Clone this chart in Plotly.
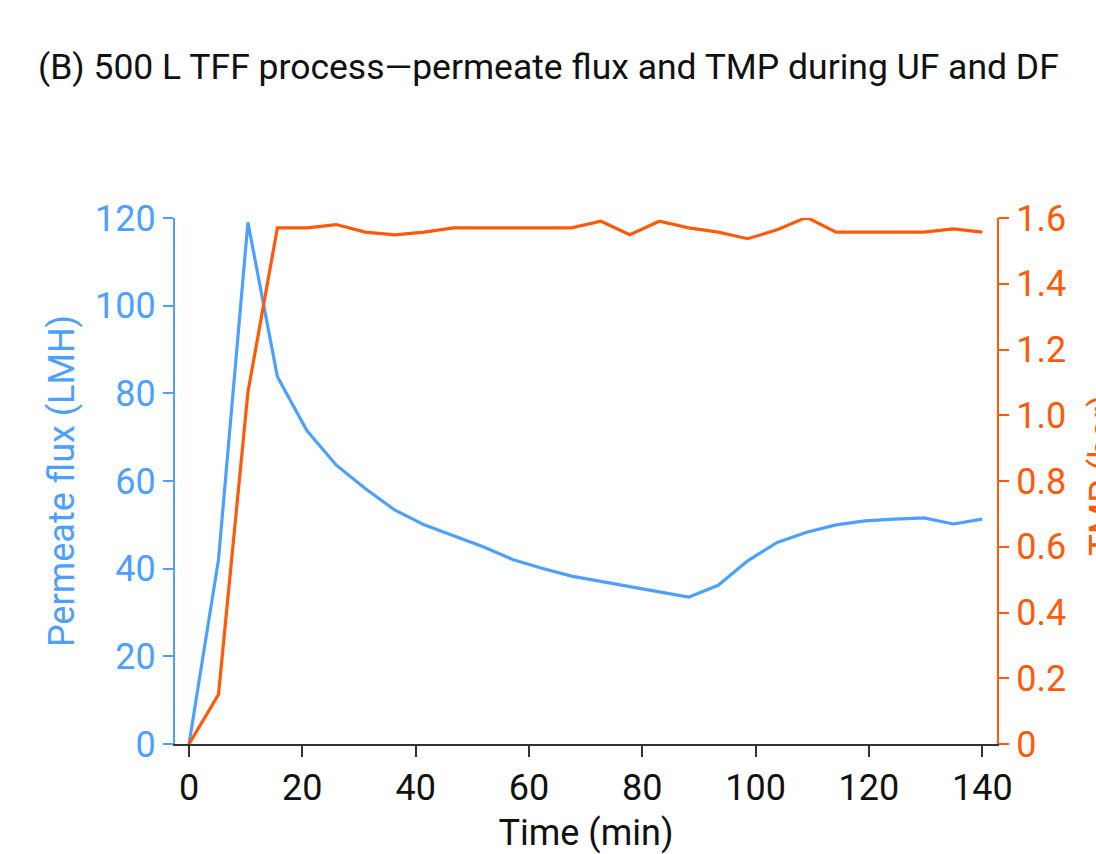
import plotly.graph_objects as go

time_min = [0, 5.2, 10.4, 15.6, 20.8, 26.0, 31.1, 36.3, 41.5, 46.7, 51.9, 57.1, 62.3, 67.5,
            72.7, 77.8, 83.0, 88.2, 93.4, 98.6, 103.8, 109.0, 114.2, 119.3, 124.5, 129.7, 134.9, 140.0]
flux_lmh = [0, 42.0, 119.0, 83.8, 71.5, 63.6, 58.3, 53.4, 50.0, 47.5, 45.0, 42.1, 40.1, 38.3,
            37.0, 35.9, 34.7, 33.5, 36.2, 41.8, 46.0, 48.3, 50.0, 50.9, 51.3, 51.6, 50.2, 51.3]
tmp_bar = [0, 0.15, 1.07, 1.57, 1.57, 1.58, 1.557, 1.549, 1.557, 1.57, 1.57, 1.57, 1.57, 1.57,
           1.59, 1.549, 1.59, 1.57, 1.557, 1.537, 1.564, 1.602, 1.557, 1.557, 1.557, 1.557, 1.567, 1.557]

BLUE = "#4DA0FF"
ORANGE = "#FF5A0A"
FONT = "Roboto"
FS = 36

fig = go.Figure()
fig.add_trace(go.Scatter(x=time_min, y=flux_lmh, mode="lines", name="Permeate flux",
                         line=dict(color=BLUE, width=3.2), yaxis="y"))
fig.add_trace(go.Scatter(x=time_min, y=tmp_bar, mode="lines", name="TMP",
                         line=dict(color=ORANGE, width=3.2), yaxis="y2"))

L, R, T, B = 175, 99, 218, 110
fig.update_layout(
    width=1096, height=854,
    margin=dict(l=L, r=R, t=T, b=B, autoexpand=False),
    paper_bgcolor="white", plot_bgcolor="white",
    showlegend=False,
    font=dict(family=FONT, size=FS, color="#111111"),
    title=dict(text="(B) 500 L TFF process\u2014permeate flux and TMP during UF and DF",
               x=38/1096, xanchor="left", xref="container",
               y=1-67/854, yanchor="middle", yref="container",
               font=dict(family=FONT, size=35.5, color="#111111")),
    xaxis=dict(range=[-2.47, 142.6], tickvals=[0, 20, 40, 60, 80, 100, 120, 140],
               showgrid=False, zeroline=False, showline=True, linecolor="#333333", linewidth=2,
               ticks="outside", ticklen=11, tickwidth=2, tickcolor="#333333",
               tickfont=dict(size=FS, color="#111111"),
               title=dict(text="Time (min)", font=dict(size=FS, color="#111111"), standoff=15)),
    yaxis=dict(range=[0, 120], tickvals=[0, 20, 40, 60, 80, 100, 120],
               showgrid=False, zeroline=False, showline=True, linecolor=BLUE, linewidth=2,
               ticks="outside", ticklen=10, tickwidth=2, tickcolor=BLUE,
               tickfont=dict(size=FS, color=BLUE),
               title=dict(text="Permeate flux (LMH)", font=dict(size=FS, color=BLUE), standoff=9)),
    yaxis2=dict(range=[0, 1.6], tickvals=[0, 0.2, 0.4, 0.6, 0.8, 1.0, 1.2, 1.4, 1.6],
                ticktext=["0", "0.2", "0.4", "0.6", "0.8", "1.0", "1.2", "1.4", "1.6"],
                overlaying="y", side="right",
                showgrid=False, zeroline=False, showline=True, linecolor=ORANGE, linewidth=2,
                ticks="outside", ticklen=10, tickwidth=2, tickcolor=ORANGE,
                tickfont=dict(size=FS, color=ORANGE)),
)

fig.add_annotation(text="TMP (bar)", textangle=-90, showarrow=False,
                   xref="paper", yref="paper", x=(1103 - L) / (1096 - L - R), y=0.51,
                   xanchor="center", yanchor="middle",
                   font=dict(family=FONT, size=FS, color=ORANGE))

fig.write_html("out.html")
